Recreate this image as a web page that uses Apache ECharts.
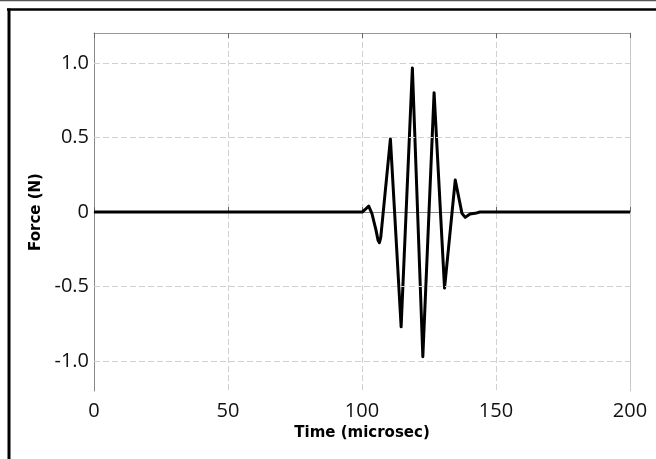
<!DOCTYPE html>
<html>
<head>
<meta charset="utf-8">
<script src="https://cdn.jsdelivr.net/npm/echarts@6/dist/echarts.min.js"></script>
<style>html,body{margin:0;padding:0;background:#fff;}#c{width:656px;height:459px;}</style>
</head>
<body>
<div id="c"></div>
<script>
// Data
var timeUs = [0, 100.1, 101.2, 102.5, 103.7, 105.2, 106.0, 106.5, 107.0, 110.6, 114.6, 118.8, 122.7, 126.9, 130.8, 134.8, 137.3, 138.5, 140.3, 142.2, 144, 200];
var forceN = [0, 0, 0.017, 0.04, -0.01, -0.12, -0.19, -0.206, -0.17, 0.49, -0.77, 0.965, -0.97, 0.80, -0.51, 0.215, -0.009, -0.036, -0.013, -0.009, 0, 0];
var xTicks = [0, 50, 100, 150, 200];
var yTicks = [-1.0, -0.5, 0, 0.5, 1.0];
var xTitle = 'Time (microsec)';
var yTitle = 'Force (N)';

var pts = timeUs.map(function (t, i) { return [t, forceN[i]]; });
var numFont = 'Open Sans';
var titleFont = 'DejaVu Sans';

var chart = echarts.init(document.getElementById('c'), null, { renderer: 'canvas' });
chart.setOption({
  animation: false,
  backgroundColor: '#fff',
  grid: { left: 94, right: 26, top: 33, bottom: 68, containLabel: false },
  graphic: [
    { type: 'line', shape: { x1: 0, y1: 0.5, x2: 656, y2: 0.5 }, style: { stroke: '#555', lineWidth: 1.5 } },
    { type: 'line', shape: { x1: 7, y1: 9.5, x2: 656, y2: 9.5 }, style: { stroke: '#000', lineWidth: 2.5 } },
    { type: 'line', shape: { x1: 9, y1: 8.5, x2: 9, y2: 459 }, style: { stroke: '#000', lineWidth: 3 } }
  ],
  xAxis: [{
    type: 'value', min: xTicks[0], max: xTicks[xTicks.length - 1], interval: 50,
    position: 'bottom',
    name: xTitle, nameLocation: 'middle', nameGap: 34,
    nameTextStyle: { fontFamily: titleFont, fontWeight: 'bold', fontSize: 15, color: '#000' },
    axisLine: { show: true, lineStyle: { color: '#888', width: 1 } },
    axisTick: { show: true, inside: true, length: 5, lineStyle: { color: '#666' } },
    axisLabel: { fontFamily: numFont, fontSize: 20, color: '#111', margin: 10 },
    splitLine: { show: true, lineStyle: { color: '#d0d0d0', type: [6, 3], width: 1 } }
  }, {
    type: 'value', min: xTicks[0], max: xTicks[xTicks.length - 1], interval: 50,
    position: 'top',
    axisLine: { show: true, onZero: false, lineStyle: { color: '#999', width: 1 } },
    axisTick: { show: true, inside: true, length: 5, lineStyle: { color: '#666' } },
    axisLabel: { show: false },
    splitLine: { show: false }
  }],
  yAxis: [{
    type: 'value', min: -1.2, max: 1.2,
    position: 'left',
    name: yTitle, nameLocation: 'middle', nameGap: 50, nameRotate: 90,
    nameTextStyle: { fontFamily: titleFont, fontWeight: 'bold', fontSize: 15, color: '#000' },
    axisLine: { show: true, onZero: false, lineStyle: { color: '#888', width: 1 } },
    axisTick: { show: true, inside: true, length: 5, customValues: yTicks, lineStyle: { color: '#666' } },
    axisLabel: {
      fontFamily: numFont, fontSize: 20, color: '#111', margin: 5, customValues: yTicks,
      formatter: function (v) { return v === 0 ? '0' : v.toFixed(1); }
    },
    splitLine: { show: false }
  }, {
    type: 'value', min: -1.2, max: 1.2,
    position: 'right',
    axisLine: { show: true, onZero: false, lineStyle: { color: '#c8c8c8', width: 1 } },
    axisTick: { show: true, inside: true, length: 5, customValues: yTicks, lineStyle: { color: '#555' } },
    axisLabel: { show: false },
    splitLine: { show: false }
  }],
  series: [{
    type: 'line', name: 'grid', data: [], z: 1, silent: true,
    markLine: {
      silent: true, symbol: ['none', 'none'], animation: false,
      label: { show: false },
      lineStyle: { color: '#d0d0d0', type: [6, 3], width: 1 },
      data: yTicks.filter(function (v) { return v !== 0; }).map(function (v) { return { yAxis: v }; })
    }
  }, {
    type: 'line', name: 'force', data: pts, z: 3,
    showSymbol: false, symbol: 'none', smooth: false,
    lineStyle: { color: '#000', width: 3, join: 'round' }
  }]
});
</script>
</body>
</html>
